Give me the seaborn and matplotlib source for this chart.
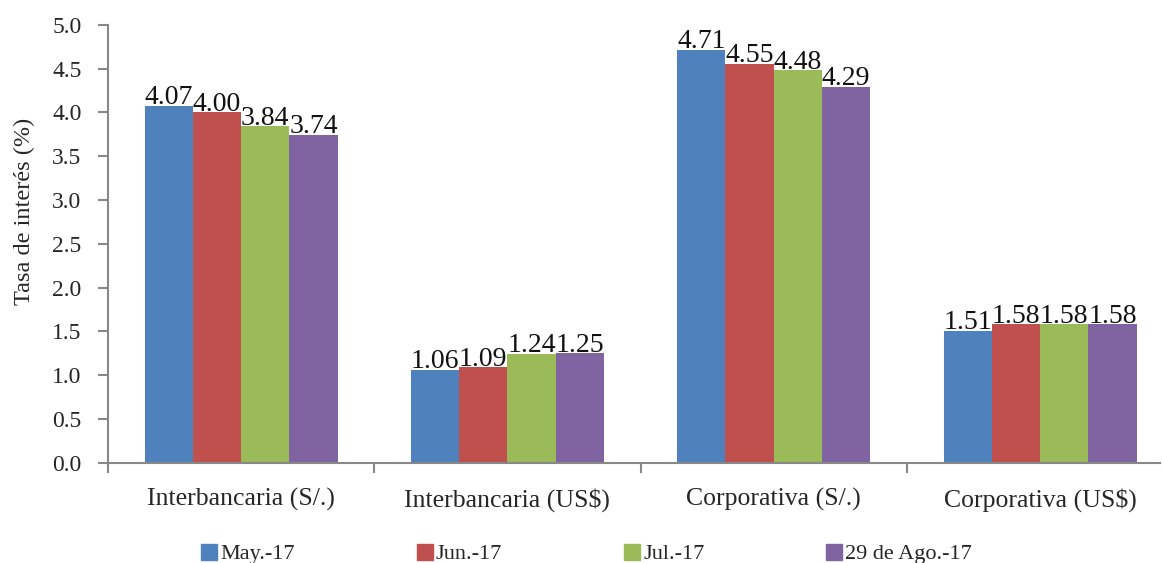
import matplotlib
matplotlib.use("Agg")
import matplotlib.pyplot as plt
from matplotlib.lines import Line2D
import seaborn as sns
import pandas as pd

categories = ["Interbancaria (S/.)", "Interbancaria (US$)", "Corporativa (S/.)", "Corporativa (US$)"]
periods = ["May.-17", "Jun.-17", "Jul.-17", "29 de Ago.-17"]
may_17 = [4.07, 1.06, 4.71, 1.51]
jun_17 = [4.00, 1.09, 4.55, 1.58]
jul_17 = [3.84, 1.24, 4.48, 1.58]
ago_17 = [3.74, 1.25, 4.29, 1.58]
palette = ["#4F81BD", "#C0504D", "#9BBB59", "#8064A2"]

series = [may_17, jun_17, jul_17, ago_17]
df = pd.DataFrame(
    [(c, p, v) for p, vals in zip(periods, series) for c, v in zip(categories, vals)],
    columns=["categoria", "periodo", "tasa"],
)

sns.set_theme(style="white")
plt.rcParams["font.family"] = ["Liberation Serif", "DejaVu Serif"]

fig = plt.figure(figsize=(11.62, 5.63), dpi=100)
ax = fig.add_axes([0.0929, 0.178, 0.9053, 0.778])

sns.barplot(data=df, x="categoria", y="tasa", hue="periodo", order=categories,
            hue_order=periods, palette=palette, width=0.725, saturation=1,
            ax=ax, legend=False, zorder=2, linewidth=0)

# value labels sit behind the bars, so neighbouring bars hide overlapping digits
for cont in ax.containers:
    for bar in cont:
        h = bar.get_height()
        ax.text(bar.get_x() + bar.get_width() / 2, h + 0.02, f"{h:.2f}",
                ha="center", va="baseline", fontsize=20, color="#111111", zorder=1)

ax.set_ylim(0, 5.0)
ax.set_xlim(-0.5, 3.45)
ax.set_yticks([i * 0.5 for i in range(11)])
ax.set_yticklabels([f"{i * 0.5:.1f}" for i in range(11)], fontsize=17)
ax.set_xticks(range(4))
ax.set_xticklabels(categories, fontsize=18.5)
ax.set_xticks([-0.5, 0.5, 1.5, 2.5], minor=True)
ax.tick_params(axis="x", which="major", length=0, pad=18)
ax.tick_params(axis="x", which="minor", length=7, color="#888888", width=1.5,
               direction="out", bottom=True)
ax.tick_params(axis="y", length=7, color="#888888", width=1.5, direction="out",
               left=True, pad=12)
ax.set_xlabel("")
ax.set_ylabel("Tasa de interés (%)", fontsize=17.5)
ax.yaxis.set_label_coords(-0.069, 0.573)

for side in ["top", "right"]:
    ax.spines[side].set_visible(False)
for side in ["left", "bottom"]:
    ax.spines[side].set_color("#888888")
    ax.spines[side].set_linewidth(1.5)

handles = [Line2D([0], [0], marker="s", linestyle="none", markersize=11,
                  markerfacecolor=c, markeredgecolor=c) for c in palette]
fig.legend(handles, periods, loc="lower center", bbox_to_anchor=(0.504, -0.038),
           ncol=4, frameon=False, fontsize=16, handletextpad=0.05,
           columnspacing=5.4, handlelength=0.9)

fig.savefig("out.png", dpi=100)
